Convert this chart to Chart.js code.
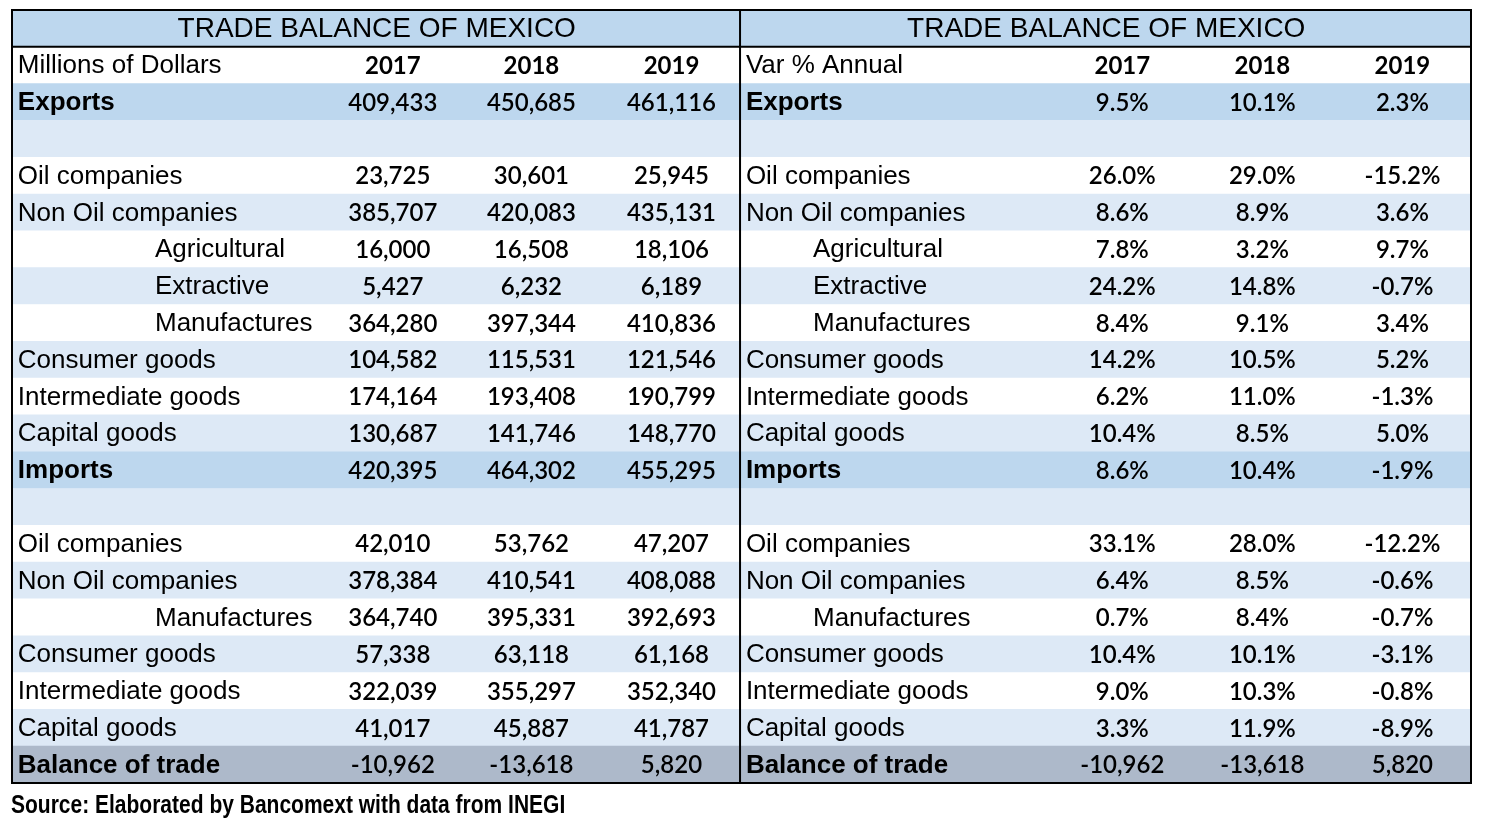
<!DOCTYPE html>
<html><head><meta charset="utf-8">
<script src="https://cdn.jsdelivr.net/npm/chart.js@4.4.0/dist/chart.umd.min.js"></script>
<style>html,body{margin:0;padding:0;background:#fff}#wrap{width:1494px;height:826px}</style>
</head><body><div id="wrap"><canvas id="c" width="1494" height="826"></canvas></div>
<script>
const title = "TRADE BALANCE OF MEXICO";
const leftHeader = "Millions of Dollars";
const rightHeader = "Var % Annual";
const years = ["2017", "2018", "2019"];
const rowLabels = ["", "", "Exports", "", "Oil companies", "Non Oil companies", "Agricultural", "Extractive", "Manufactures",
  "Consumer goods", "Intermediate goods", "Capital goods", "Imports", "", "Oil companies", "Non Oil companies", "Manufactures",
  "Consumer goods", "Intermediate goods", "Capital goods", "Balance of trade"];
const rowKind = ["title", "years", "main", "blank", "n", "n", "sub", "sub", "sub", "n", "n", "n", "main", "blank", "n", "n", "sub", "n", "n", "n", "total"];
const rowFill = ["h", "w", "h", "l", "w", "l", "w", "l", "w", "l", "w", "l", "h", "l", "w", "l", "w", "l", "w", "l", "g"];
const val2017 = ["", "", "409,433", "", "23,725", "385,707", "16,000", "5,427", "364,280", "104,582", "174,164", "130,687", "420,395", "", "42,010", "378,384", "364,740", "57,338", "322,039", "41,017", "-10,962"];
const val2018 = ["", "", "450,685", "", "30,601", "420,083", "16,508", "6,232", "397,344", "115,531", "193,408", "141,746", "464,302", "", "53,762", "410,541", "395,331", "63,118", "355,297", "45,887", "-13,618"];
const val2019 = ["", "", "461,116", "", "25,945", "435,131", "18,106", "6,189", "410,836", "121,546", "190,799", "148,770", "455,295", "", "47,207", "408,088", "392,693", "61,168", "352,340", "41,787", "5,820"];
const pct2017 = ["", "", "9.5%", "", "26.0%", "8.6%", "7.8%", "24.2%", "8.4%", "14.2%", "6.2%", "10.4%", "8.6%", "", "33.1%", "6.4%", "0.7%", "10.4%", "9.0%", "3.3%", "-10,962"];
const pct2018 = ["", "", "10.1%", "", "29.0%", "8.9%", "3.2%", "14.8%", "9.1%", "10.5%", "11.0%", "8.5%", "10.4%", "", "28.0%", "8.5%", "8.4%", "10.1%", "10.3%", "11.9%", "-13,618"];
const pct2019 = ["", "", "2.3%", "", "-15.2%", "3.6%", "9.7%", "-0.7%", "3.4%", "5.2%", "-1.3%", "5.0%", "-1.9%", "", "-12.2%", "-0.6%", "-0.7%", "-3.1%", "-0.8%", "-8.9%", "5,820"];
const source = "Source: Elaborated by Bancomext with data from INEGI";

const fillColors = {h: "#bdd7ee", w: "#ffffff", l: "#dde9f6", g: "#adb9ca"};
const rowIdx = rowLabels.map((_, i) => i);

const tablePlugin = {
  id: "tableText",
  afterDatasetsDraw(chart) {
    const ctx = chart.ctx, xs = chart.scales.x, ys = chart.scales.y;
    const X = p => xs.getPixelForValue(p);
    const top = ys.getPixelForValue(-0.5), bot = ys.getPixelForValue(rowLabels.length - 0.5);
    ctx.save();
    ctx.textBaseline = "middle";
    const labelFont = "26px 'Liberation Sans', Arial, sans-serif";
    const boldLabel = "bold 26px 'Liberation Sans', Arial, sans-serif";
    const numFont = "600 24px Lato, 'Open Sans', sans-serif";
    const panels = [
      {lab: 0.4, sub: 9.8, cols: [26.1, 35.6, 45.2], vals: [val2017, val2018, val2019], head: leftHeader, ctr: 25},
      {lab: 50.3, sub: 54.9, cols: [76.1, 85.7, 95.3], vals: [pct2017, pct2018, pct2019], head: rightHeader, ctr: 75}
    ];
    rowLabels.forEach((lab, i) => {
      const y = ys.getPixelForValue(i) + 1;
      const kind = rowKind[i];
      panels.forEach(p => {
        ctx.fillStyle = "#000";
        if (kind === "title") {
          ctx.font = "28px 'Liberation Sans', Arial, sans-serif";
          ctx.textAlign = "center";
          ctx.fillText(title, X(p.ctr), y);
          return;
        }
        if (kind === "years") {
          ctx.font = labelFont; ctx.textAlign = "left";
          ctx.fillText(p.head, X(p.lab), y);
          ctx.font = "bold 24px Lato, sans-serif"; ctx.textAlign = "center";
          years.forEach((yr, k) => ctx.fillText(yr, X(p.cols[k]), y));
          return;
        }
        ctx.textAlign = "left";
        ctx.font = (kind === "main" || kind === "total") ? boldLabel : labelFont;
        ctx.fillText(lab, X(kind === "sub" ? p.sub : p.lab), y);
        ctx.font = numFont; ctx.textAlign = "center";
        p.vals.forEach((arr, k) => ctx.fillText(arr[i], X(p.cols[k]), y));
      });
    });
    ctx.strokeStyle = "#000";
    ctx.lineWidth = 2;
    ctx.strokeRect(X(0), top, X(100) - X(0), bot - top);
    ctx.beginPath();
    ctx.moveTo(X(49.9), top); ctx.lineTo(X(49.9), bot);
    const hb = ys.getPixelForValue(0.5);
    ctx.moveTo(X(0), hb); ctx.lineTo(X(100), hb);
    ctx.stroke();
    // source, horizontally condensed
    ctx.textAlign = "left";
    ctx.font = "bold 25px 'Liberation Sans', sans-serif";
    ctx.translate(X(0) - 1, bot + 23);
    ctx.scale(0.84, 1);
    ctx.fillText(source, 0, 0);
    ctx.restore();
  }
};

new Chart(document.getElementById("c"), {
  type: "bar",
  data: {
    labels: rowIdx,
    datasets: [{
      data: rowIdx.map(() => [0, 100]),
      backgroundColor: rowFill.map(f => fillColors[f]),
      borderWidth: 0,
      barPercentage: 1,
      categoryPercentage: 1
    }]
  },
  options: {
    indexAxis: "y",
    responsive: false,
    animation: false,
    layout: {padding: {left: 12, right: 23, top: 10, bottom: 43}},
    plugins: {legend: {display: false}, tooltip: {enabled: false}},
    scales: {
      x: {type: "linear", min: 0, max: 100, display: false},
      y: {type: "category", display: false, offset: true, grid: {display: false}}
    }
  },
  plugins: [tablePlugin]
});
</script></body></html>
